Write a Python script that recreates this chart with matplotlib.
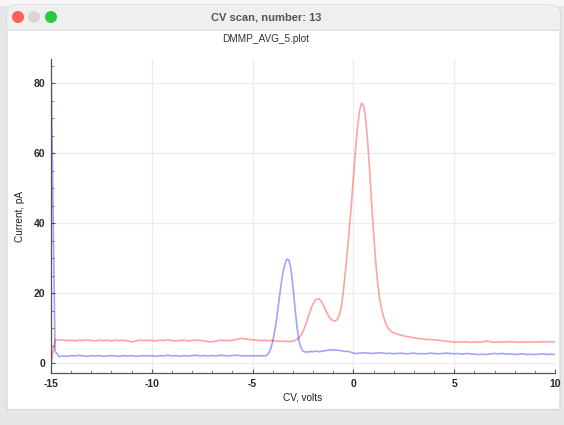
import numpy as np
import matplotlib
matplotlib.use("Agg")
import matplotlib.pyplot as plt
from matplotlib.patches import FancyBboxPatch, Rectangle, Circle
from matplotlib.ticker import MultipleLocator

plt.rcParams['font.family'] = ['Liberation Sans', 'DejaVu Sans']
plt.rcParams['axes.unicode_minus'] = False

WINDOW_TITLE = "CV scan, number: 13"
PLOT_TITLE = "DMMP_AVG_5.plot"
X_LABEL = "CV, volts"
Y_LABEL = "Current, pA"

# CV sweep: 0.2 V steps, finer 0.1 V steps across the peak region
cv = np.concatenate([np.linspace(-15, -4.6, 53),
                     np.linspace(-4.5, 2.2, 68),
                     np.linspace(2.4, 10, 39)])

red_current = [
    # -15 .. -4.6 (0.2 V)
    0.0, 6.6, 6.7, 6.6, 6.5, 6.6, 6.4, 6.6, 6.5, 6.7,
    6.5, 6.4, 6.6, 6.5, 6.6, 6.4, 6.6, 6.5, 6.6, 6.4,
    6.1, 6.4, 6.6, 6.5, 6.6, 6.5, 6.4, 6.6, 6.5, 6.7,
    6.5, 6.4, 6.5, 6.6, 6.4, 6.5, 6.6, 6.5, 6.4, 6.2,
    6.1, 6.4, 6.6, 6.5, 6.5, 6.6, 6.8, 7.1, 7.0, 6.8,
    6.7, 6.6, 6.5,
    # -4.5 .. 2.2 (0.1 V)
    6.5, 6.6, 6.5, 6.4, 6.5, 6.5, 6.4, 6.4, 6.3, 6.3,
    6.3, 6.3, 6.2, 6.2, 6.3, 6.3, 6.5, 6.8, 7.3, 8.0,
    9.1, 10.5, 12.2, 14.0, 15.7, 17.0, 18.0, 18.4, 18.4, 17.8,
    16.7, 15.5, 14.2, 13.2, 12.5, 12.2, 12.1, 12.5, 13.8, 16.0,
    20.5, 26.0, 32.0, 38.5, 45.5, 53.0, 60.5, 67.2, 72.0, 74.3,
    73.8, 70.5, 64.0, 55.5, 46.0, 37.5, 29.5, 23.0, 18.5, 15.5,
    13.3, 11.5, 10.3, 9.5, 9.0, 8.7, 8.5, 8.3,
    # 2.4 .. 10 (0.2 V)
    8.0, 7.7, 7.5, 7.3, 7.1, 7.0, 6.8, 6.8, 6.7, 6.6,
    6.5, 6.3, 6.2, 6.0, 6.2, 6.0, 6.2, 6.0, 6.1, 6.0,
    6.1, 6.4, 6.1, 6.0, 6.1, 6.0, 6.1, 6.2, 6.1, 6.0,
    6.1, 6.0, 6.1, 6.0, 6.1, 6.2, 6.1, 6.2, 6.1,
]

blue_current = [
    # -15 .. -4.6 (0.2 V)
    86.0, 3.5, 1.9, 2.1, 2.0, 2.2, 2.1, 2.3, 2.1, 2.0,
    2.2, 2.1, 2.2, 2.0, 2.1, 2.2, 2.1, 2.0, 2.2, 2.1,
    2.2, 2.0, 2.1, 2.2, 2.1, 2.2, 2.0, 2.2, 2.1, 2.3,
    2.1, 2.2, 2.0, 2.2, 2.1, 2.2, 2.3, 2.1, 2.2, 2.1,
    2.2, 2.1, 2.3, 2.2, 2.1, 2.2, 2.3, 2.2, 2.1, 2.2,
    2.1, 2.2, 2.1,
    # -4.5 .. 2.2 (0.1 V)
    2.2, 2.1, 2.3, 2.9, 4.2, 6.3, 9.3, 13.0, 17.5, 22.0,
    25.8, 28.3, 29.8, 29.5, 27.0, 22.0, 16.0, 10.5, 6.5, 4.4,
    3.5, 3.2, 3.3, 3.2, 3.4, 3.3, 3.4, 3.5, 3.3, 3.4,
    3.5, 3.6, 3.7, 3.8, 3.8, 3.9, 3.8, 3.7, 3.7, 3.6,
    3.5, 3.4, 3.4, 3.3, 3.1, 2.9, 2.8, 2.8, 2.9, 2.9,
    3.0, 3.0, 2.9, 2.9, 2.8, 2.8, 2.9, 2.9, 3.0, 3.0,
    2.9, 2.8, 2.8, 2.9, 2.8, 2.7, 2.8, 2.8,
    # 2.4 .. 10 (0.2 V)
    2.9, 2.7, 2.8, 2.9, 2.7, 2.8, 2.7, 2.9, 2.8, 2.7,
    2.8, 2.9, 2.8, 2.7, 2.8, 2.6, 2.8, 2.7, 2.6, 2.5,
    2.6, 2.5, 2.7, 2.8, 2.7, 2.8, 2.6, 2.7, 2.5, 2.6,
    2.7, 2.5, 2.6, 2.5, 2.6, 2.7, 2.5, 2.6, 2.5,
]

x_ticks = [-15, -10, -5, 0, 5, 10]
y_ticks = [0, 20, 40, 60, 80]

W, H = 564, 425
fig = plt.figure(figsize=(W / 100, H / 100), dpi=100)
fig.patch.set_facecolor('#e6e6e6')

# window chrome drawn in pixel coordinates
bg = fig.add_axes([0, 0, 1, 1])
bg.set_xlim(0, W)
bg.set_ylim(H, 0)
bg.axis('off')
bg.add_patch(Rectangle((0, 0), W, 6, color='#f7f7f7', lw=0))
bg.add_patch(FancyBboxPatch((7, 5), 553, 410, boxstyle='round,pad=0,rounding_size=9',
                            fc='white', ec='#d4d4d4', lw=0.8))
bg.add_patch(FancyBboxPatch((7, 5), 553, 25, boxstyle='round,pad=0,rounding_size=9',
                            fc='#f0efef', ec='none'))
bg.add_patch(Rectangle((7, 20), 553, 10, fc='#f0efef', ec='none'))
bg.plot([7, 560], [30, 30], color='#dcdcdc', lw=0.8)
bg.add_patch(Rectangle((7.5, 409), 552, 16, fc='#e6e6e6', ec='none'))
bg.plot([7, 560], [409, 409], color='#d8d8d8', lw=0.8)
for cx, col in [(18, '#fe5f57'), (34, '#d6d6d6'), (51, '#28c840')]:
    bg.add_patch(Circle((cx, 17), 6, fc=col, ec='none'))
bg.text(266, 17, WINDOW_TITLE, ha='center', va='center', fontsize=8,
        fontweight='bold', color='#555555')
bg.text(266, 39, PLOT_TITLE, ha='center', va='center', fontsize=7.2,
        color='#333333')
bg.text(20, 216, Y_LABEL, ha='center', va='center', rotation=90,
        fontsize=7.2, color='#222222')
bg.text(303, 398, X_LABEL, ha='center', va='center', fontsize=7.2,
        color='#222222')

ax = fig.add_axes([51 / W, 1 - 373.3 / H, 504 / W, (373.3 - 58.8) / H])
ax.patch.set_alpha(0)
ax.plot(cv, red_current, color='red', alpha=0.36, lw=1.2)
ax.plot(cv, blue_current, color='blue', alpha=0.36, lw=1.2)

ax.set_xlim(-15, 10)
ax.set_ylim(-2.86, 87)
ax.set_xticks(x_ticks)
ax.set_yticks(y_ticks)
ax.xaxis.set_minor_locator(MultipleLocator(1))
ax.yaxis.set_minor_locator(MultipleLocator(5))
ax.grid(True, which='major', color='#ededed', lw=0.9)
ax.set_axisbelow(True)
for side in ['top', 'right']:
    ax.spines[side].set_visible(False)
for side in ['left', 'bottom']:
    ax.spines[side].set_color('#555555')
    ax.spines[side].set_linewidth(0.9)
ax.tick_params(which='major', direction='in', length=3, width=0.8,
               color='#555555', labelsize=7.5, labelcolor='#2a2a2a', pad=4)
ax.tick_params(which='minor', direction='in', length=2, width=0.6,
               color='#777777')
for lab in ax.get_xticklabels() + ax.get_yticklabels():
    lab.set_fontweight('bold')

fig.savefig('out.png', dpi=100, facecolor=fig.get_facecolor())
